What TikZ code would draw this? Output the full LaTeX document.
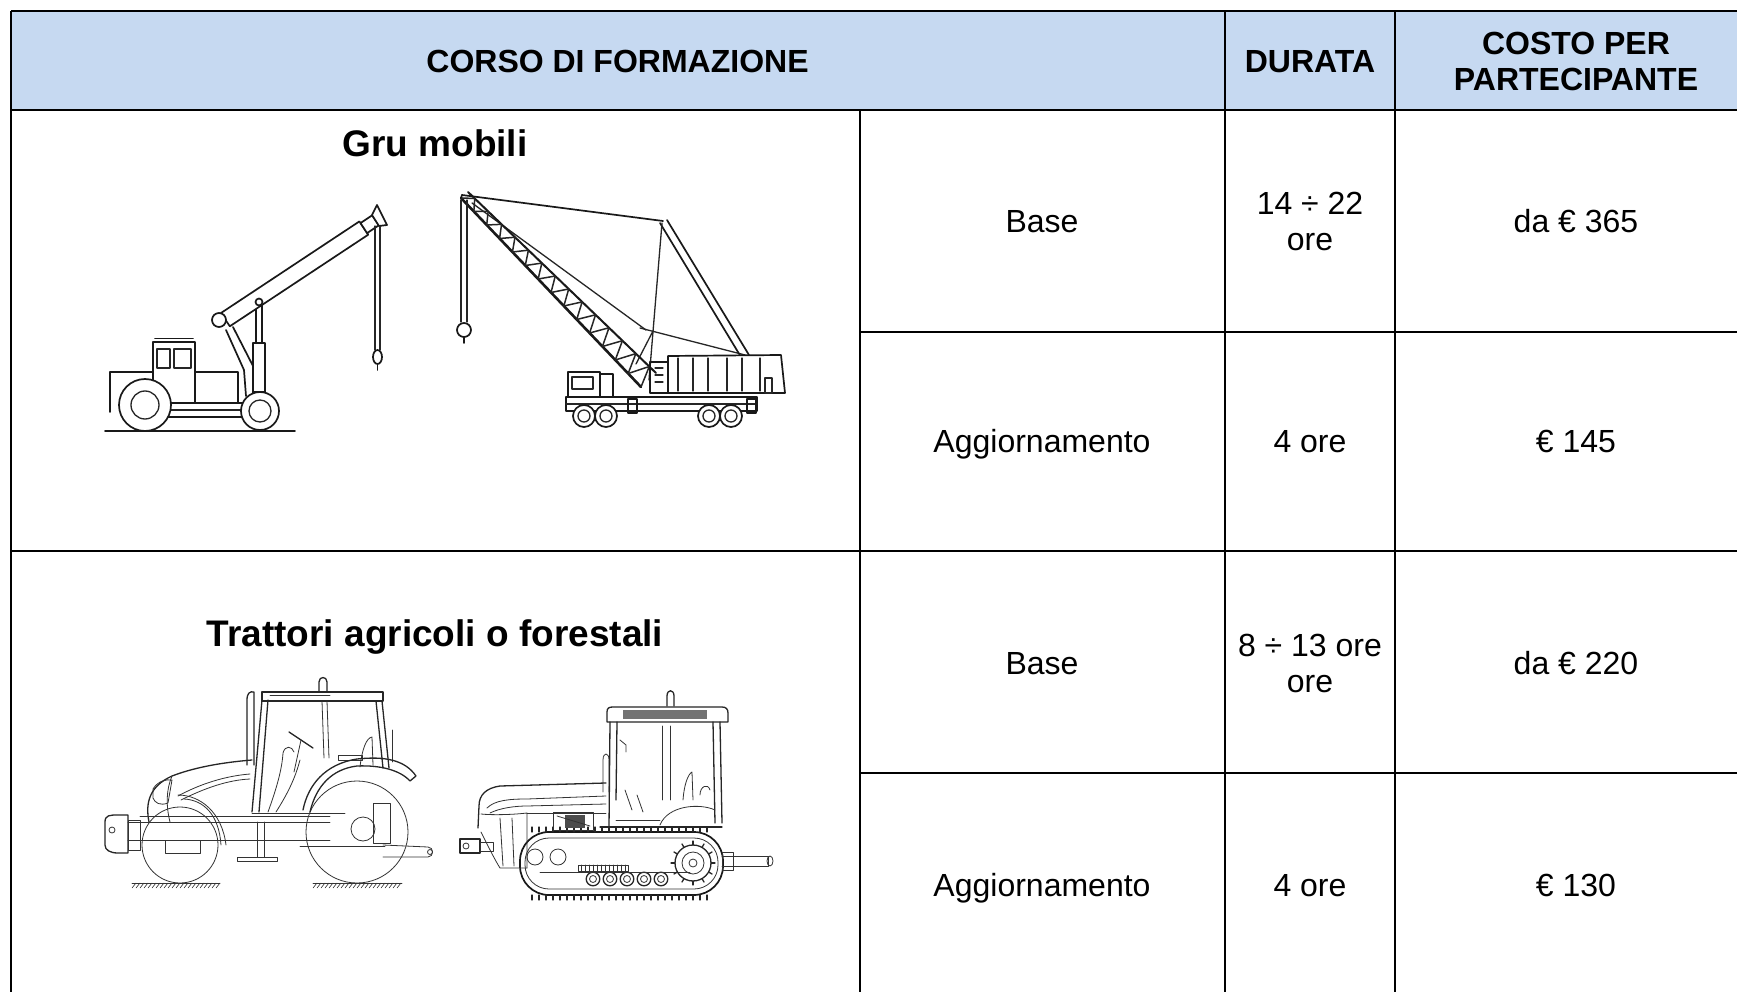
\documentclass[tikz,border=0pt]{standalone}
\usepackage{fontspec}
\setmainfont{Liberation Sans}
\usetikzlibrary{calc}
\definecolor{hdrblue}{RGB}{198,217,241}
\tikzset{
  sk/.style={line width=1.3pt, black!85, line join=round, line cap=round},
  skc/.style={line width=1.7pt, black!90, line join=round, line cap=round},
  skt/.style={line width=0.8pt, black!80, line join=round, line cap=round},
  hd/.style={font=\fontsize{32}{36.8}\selectfont\bfseries, inner sep=0pt, anchor=base},
  cell/.style={font=\fontsize{32}{36.8}\selectfont, inner sep=0pt, anchor=base},
  ttl/.style={font=\fontsize{37}{42}\selectfont\bfseries, inner sep=0pt, anchor=base},
  gridline/.style={line width=2pt, black},
  outerline/.style={line width=2.6pt, black},
}
\begin{document}
\begin{tikzpicture}[x=1pt,y=-1pt]
\useasboundingbox (0,0) rectangle (1737,992);
\clip (0,0) rectangle (1737,992);
\fill[white] (0,0) rectangle (1737,992);
% header fill
\fill[hdrblue] (11,11) rectangle (1758,110);
% table rules
\draw[outerline] (11,11) -- (1758,11);
\draw[outerline] (11,110) -- (1758,110);
\draw[outerline] (11,11) -- (11,1000);
\draw[gridline] (860,110) -- (860,1000);
\draw[gridline] (1225,11) -- (1225,1000);
\draw[gridline] (1395,11) -- (1395,1000);
\draw[gridline] (860,331.5) -- (1758,331.5);
\draw[gridline] (11,551) -- (1758,551);
\draw[gridline] (860,772.5) -- (1758,772.5);
\draw[gridline] (11,994) -- (1758,994);
\draw[gridline] (1758,11) -- (1758,994);

% header texts
\node[hd] (hcorso) at (617.5,72.7) {CORSO DI FORMAZIONE};
\node[hd] (hdurata) at (1310,72.7) {DURATA};
\node[hd] (hcosto1) at (1576,54.5) {COSTO PER};
\node[hd] (hcosto2) at (1576,91) {PARTECIPANTE};

% section titles
\node[ttl] (tgru) at (435,157) {Gru mobili};
\node[ttl] (ttrat) at (435,646) {Trattori agricoli o forestali};

% body cells
\node[cell] (gbase) at (1042,232.5) {Base};
\node[cell] (gdur1) at (1310,214.3) {14 ÷ 22};
\node[cell] (gdur2) at (1310,250.5) {ore};
\node[cell] (gcost1) at (1576,232.5) {da € 365};
\node[cell] (gagg) at (1042,452.5) {Aggiornamento};
\node[cell] (gdurA) at (1310,452.5) {4 ore};
\node[cell] (gcostA) at (1576,452.5) {€ 145};
\node[cell] (tbase) at (1042,674) {Base};
\node[cell] (tdur1) at (1310,656) {8 ÷ 13 ore};
\node[cell] (tdur2) at (1310,692.5) {ore};
\node[cell] (tcost1) at (1576,674) {da € 220};
\node[cell] (tagg) at (1042,896) {Aggiornamento};
\node[cell] (tdurA) at (1310,896) {4 ore};
\node[cell] (tcostA) at (1576,896) {€ 130};

%%%%%%%%%%%%%%%% CRANE 1 (telescopic) %%%%%%%%%%%%%%%%
\draw[skc] (105,431) -- (295,431);
\draw[skc] (110,412) -- (110,372) -- (153,372);
\draw[skc] (153,403) -- (153,342) -- (195,342) -- (195,403);
\draw[skc] (155,338.5) -- (193,338.5);
\draw[sk] (157,349) rectangle (170,368);
\draw[sk] (174,349) rectangle (191,368);
\draw[skc] (195,372) -- (238,372) -- (238,403);
\draw[skc] (153,403) -- (245,403);
\draw[sk] (168,410) -- (245,410);
\draw[skc] (168,417) -- (245,417);
% wheels
\draw[skc, fill=white] (145,405) circle[radius=26pt];
\draw[sk] (145,405) circle[radius=14pt];
\draw[skc, fill=white] (260,411) circle[radius=19pt];
\draw[sk] (260,411) circle[radius=11pt];
% arm
\draw[skc] (226,330) -- (244,370) -- (246,396);
\draw[skc] (233,327) -- (253,366) -- (253,393);
% hydraulic cylinder
\draw[skc] (256,302) -- (256,343);
\draw[skc] (262,302) -- (262,343);
\draw[skc] (253,343) rectangle (265,392);
% boom outer section
\draw[skc, fill=white] (221,313) -- (359.4,221.4) -- (368.2,234.7) -- (229.8,326.3) -- cycle;
% boom inner section
\draw[skc, fill=white] (360.5,223.1) -- (372.2,215.3) -- (378.8,225.3) -- (367.1,233.1) -- cycle;
% tip head
\draw[skc, fill=white] (372,215) -- (377,205) -- (387,225) -- (379,226) -- cycle;
\draw[skc, fill=white] (259,302) circle[radius=3.5pt];
\draw[skc, fill=white] (219,320) circle[radius=7pt];
% hook
\draw[sk] (375,226) -- (375,350);
\draw[sk] (380,226) -- (380,350);
\draw[skc, fill=white] (377.5,357) ellipse[x radius=4.5pt, y radius=7pt];
\draw[skc] (377.5,364) -- (377.5,370);

%%%%%%%%%%%%%%%% CRANE 2 (lattice boom truck) %%%%%%%%%%%%%%%%
\coordinate (A1) at (461,198);
\coordinate (A2) at (641,387);
\coordinate (B1) at (468,192);
\coordinate (B2) at (656,373);
\coordinate (ctip) at (462,195);
\coordinate (mtop) at (663,221);
% pendant and cables
\draw[skc] (ctip) -- (mtop);
\draw[sk] (472,203) -- (646,330);
\draw[sk] (640,328) -- (745,355);
\draw[sk] (653,331) -- (636,364);
% mast
\draw[skc] (660,223) -- (741,357);
\draw[skc] (667,220) -- (749,355);
\draw[sk] (662,223) -- (649,380);
% boom
\draw[skc, line width=2.6pt] (A1) -- (A2);
\draw[skc, line width=2pt] (B1) -- (B2);
\foreach \i in {0,...,13} {
  \draw[sk, line width=1.5pt] ($(A1)!{\i/14}!(A2)$) -- ($(B1)!{(\i+0.5)/14}!(B2)$) -- ($(A1)!{(\i+1)/14}!(A2)$);
}
% hook
\draw[skc] (ctip) -- (A1);
\draw[sk] (461,200) -- (461,322);
\draw[sk] (467,200) -- (467,322);
\draw[skc, fill=white] (464,330) circle[radius=7pt];
\draw[skc] (464,337) -- (464,343);
% house
\draw[skc, fill=white] (668,356) -- (781,355) -- (785,393) -- (668,393) -- cycle;
\foreach \x in {678,693,708,727,742,760} { \draw[sk] (\x,358) -- (\x,391); }
\draw[skc] (650,362) rectangle (668,393);
\draw[sk] (655,368) -- (663,368);
\draw[sk] (655,375) -- (663,375);
\draw[sk] (655,382) -- (663,382);
\draw[sk] (765,378) rectangle (772,393);
% cab and deck
\draw[skc, fill=white] (568,372) rectangle (600,397);
\draw[sk] (572,377) rectangle (593,389);
\draw[skc] (600,374) rectangle (613,397);
\draw[skc, fill=white] (566,397) rectangle (757,411);
\draw[sk] (566,404) -- (757,404);
\draw[skc] (628,399) rectangle (637,413);
\draw[skc] (747,399) rectangle (756,413);
% wheels
\foreach \x in {584,606,709,731} {
  \draw[skc, fill=white] (\x,416) circle[radius=11pt];
  \draw[sk] (\x,416) circle[radius=6pt];
}

%%%%%%%%%%%%%%%% TRACTOR 1 (wheeled) %%%%%%%%%%%%%%%%
% ground
\draw[skt] (132,883) -- (220,883);
\draw[skt] (313,883) -- (402,883);
\foreach \x in {132,136,...,216} { \draw[skt, line width=0.6pt] (\x,888) -- ({\x+4},883); }
\foreach \x in {313,317,...,398} { \draw[skt, line width=0.6pt] (\x,888) -- ({\x+4},883); }
% wheels
\draw[skt] (180,845) circle[radius=38pt];
\draw[skt] (357,832) circle[radius=51pt];
% hood
\draw[sk] (149,822) .. controls (145,802) and (150,786) .. (172,776) .. controls (198,766) and (228,762) .. (252,760);
\draw[skt] (172,776) .. controls (166,790) and (166,806) .. (170,822);
\draw[skt] (153,789) .. controls (158,781) and (166,779) .. (172,780) -- (168,803) .. controls (160,806) and (155,803) .. (153,798) -- cycle;
\draw[skt] (178,796) .. controls (200,784) and (225,776) .. (250,774);
\draw[skt] (181,800) .. controls (205,788) and (228,780) .. (250,779);
% front fender
\draw[skt] (178,795) .. controls (200,795) and (222,812) .. (226,845);
\draw[skt] (184,799) .. controls (204,800) and (219,815) .. (221,845);
% exhaust
\draw[sk] (247,765) -- (247,700) .. controls (247,693) and (250,691) .. (254,692) -- (254,765);
% cab pillars and roof
\draw[sk] (252,812) -- (262,700);
\draw[sk] (259,812) -- (268,700);
\draw[sk] (262,692) rectangle (383,701);
\draw[skt] (270,695) -- (330,695);
\draw[sk] (376,701) -- (383,768);
\draw[sk] (382,701) -- (389,768);
\draw[skt] (322,701) -- (324,758);
\draw[skt] (327,701) -- (329,758);
% beacon
\draw[sk] (319,692) -- (319,682) .. controls (319,676) and (327,676) .. (327,682) -- (327,692);
\draw[skt] (392,730) -- (392,762);
% steering and operator
\draw[sk] (289,732) -- (313,748);
\draw[skt] (301,740) -- (294,772);
\draw[skt] (268,812) .. controls (276,790) and (282,770) .. (283,753) .. controls (285,745) and (292,746) .. (294,752);
\draw[skt] (276,812) .. controls (290,790) and (296,775) .. (300,760);
% seat
\draw[skt] (360,767) .. controls (362,750) and (366,738) .. (372,737) -- (373,765);
\draw[skt] (338,755) rectangle (362,760);
% rear fender
\draw[sk] (303,810) .. controls (308,785) and (325,764) .. (357,759) .. controls (385,756) and (405,760) .. (416,776) -- (410,781) .. controls (400,770) and (380,765) .. (357,766) .. controls (332,769) and (316,786) .. (310,812);
% chassis
\draw[skt] (128,822) -- (330,822);
\draw[skt] (128,840) -- (330,840);
\draw[skt] (140,816) -- (330,816);
\draw[skt] (165,840) rectangle (200,853);
\draw[skt] (252,813) -- (345,813);
\draw[skt] (300,846) -- (385,846);
% front weights
\draw[sk] (105,822) .. controls (105,815) and (110,815) .. (118,815) -- (128,815) -- (128,853) -- (118,853) .. controls (110,853) and (105,850) .. (105,845) -- cycle;
\draw[skt] (128,820) rectangle (140,850);
\draw[skt] (112,830) circle[radius=3pt];
% rear axle and lift
\draw[skt] (363,829) circle[radius=12pt];
\draw[skt] (373,803) rectangle (390,843);
\draw[skt] (383,845) -- (428,847) .. controls (434,847) and (434,857) .. (428,857) -- (383,857);
\draw[skt] (430,852) circle[radius=2.5pt];
% stand
\draw[skt] (257,822) -- (257,857);
\draw[skt] (264,822) -- (264,857);
\draw[skt] (237,857) rectangle (277,861);

%%%%%%%%%%%%%%%% TRACTOR 2 (crawler) %%%%%%%%%%%%%%%%
% track
\draw[skc, rounded corners=29pt] (520,832) rectangle (723,895);
\draw[skt, rounded corners=24pt] (525,838) rectangle (718,889);
\foreach \x in {532,539,...,712} {
  \draw[sk] (\x,832) -- (\x,827);
  \draw[sk] (\x,895) -- (\x,900);
}
% road wheels
\foreach \x in {593,610,627,644,661} {
  \draw[sk] (\x,879) circle[radius=6.8pt];
  \draw[skt] (\x,879) circle[radius=3.5pt];
}
\draw[skt] (578,865) rectangle (628,871);
\foreach \x in {581,585,...,625} { \draw[skt, line width=0.6pt] (\x,865) -- (\x,871); }
% idlers
\draw[skt] (535,857) circle[radius=8pt];
\draw[skt] (558,857) circle[radius=8pt];
\draw[skt] (540,872) -- (690,872);
% sprocket
\draw[sk] (693,863) circle[radius=18pt];
\draw[skt] (693,863) circle[radius=11pt];
\draw[skt] (693,863) circle[radius=4pt];
\foreach \a in {0,30,...,330} { \draw[sk] ($(693,863)+(\a:18pt)$) -- ($(693,863)+(\a:22pt)$); }
% hood
\draw[sk] (478,828) -- (479,806) .. controls (479,795) and (486,788) .. (500,786) -- (606,783);
\draw[skt] (487,808) .. controls (495,800) and (510,799) .. (527,799) -- (606,796);
\draw[skt] (490,813) .. controls (500,808) and (515,806) .. (527,806) -- (606,804);
\draw[skt] (527,813) -- (606,813);
\draw[skt] (481,814) .. controls (490,815) and (510,815) .. (527,813) -- (527,868);
\draw[skt] (481,832) .. controls (490,850) and (495,860) .. (500,868) -- (527,868);
\draw[skt] (500,818) -- (503,866);
\draw[skt] (512,818) -- (514,866);
% engine block
\draw[skt] (553,812) rectangle (593,830);
\fill[black!70] (565,815) rectangle (585,828);
\draw[skt] (557,816) -- (590,826);
% front hitch
\draw[sk] (460,839) rectangle (480,853);
\draw[skt] (480,842) rectangle (493,851);
\draw[skt] (466,846) circle[radius=3pt];
% cab roof
\draw[sk] (607,712) .. controls (607,708) and (609,707) .. (613,707) -- (722,707) .. controls (726,707) and (728,709) .. (728,713) -- (728,722) -- (607,722) -- cycle;
\fill[black!55] (623,710) rectangle (707,719);
\draw[sk] (667,706) -- (667,696) .. controls (667,689) and (674,689) .. (674,696) -- (674,706);
% cab pillars
\draw[sk] (610,722) -- (609,828);
\draw[sk] (617,722) -- (616,800);
\draw[sk] (713,722) -- (715,823);
\draw[sk] (720,722) -- (722,823);
\draw[skt] (662,726) -- (662,800);
\draw[skt] (670,726) -- (670,800);
\draw[skt] (620,740) -- (626,745) -- (626,752);
\draw[skt] (603,792) -- (603,760) .. controls (603,752) and (609,752) .. (609,760) -- (609,792);
% cab lower body
\draw[sk] (600,827) -- (722,827);
\draw[skt] (616,820) -- (660,820);
\draw[skt] (660,825) .. controls (668,805) and (700,803) .. (715,810);
\draw[skt] (683,800) .. controls (684,785) and (688,774) .. (692,772) -- (693,800);
\draw[skt] (700,795) .. controls (700,786) and (708,783) .. (710,790);
\draw[skt] (625,790) -- (632,810);
\draw[skt] (637,795) -- (643,812);
% rear drawbar
\draw[skt] (722,856) -- (768,856) -- (768,866) -- (722,866);
\draw[skt] (770,861) ellipse[x radius=3pt, y radius=5pt];
\draw[skt] (722,852) rectangle (733,870);
\end{tikzpicture}
\end{document}
